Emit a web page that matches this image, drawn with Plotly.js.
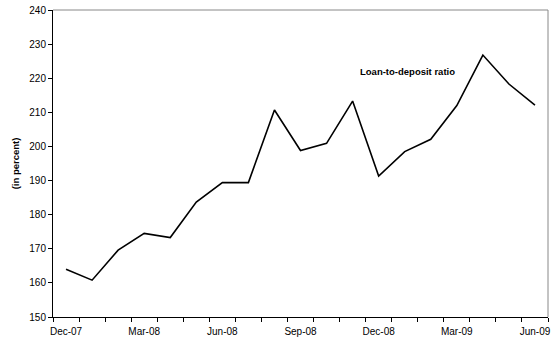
<!DOCTYPE html>
<html><head><meta charset="utf-8">
<script src="https://cdn.plot.ly/plotly-3.0.1.min.js"></script>
<style>body{margin:0;background:#fff}#c{width:554px;height:341px}</style>
</head><body><div id="c"></div>
<script>
const months = ["Dec-07","Jan-08","Feb-08","Mar-08","Apr-08","May-08","Jun-08","Jul-08","Aug-08","Sep-08","Oct-08","Nov-08","Dec-08","Jan-09","Feb-09","Mar-09","Apr-09","May-09","Jun-09"];
const ratio = [164.0,160.8,169.6,174.5,173.3,183.7,189.4,189.4,210.7,198.8,200.9,213.3,191.3,198.5,202.1,212.0,226.8,218.3,212.1];
const shownLabels = ["Dec-07","Mar-08","Jun-08","Sep-08","Dec-08","Mar-09","Jun-09"];
const seriesName = "Loan-to-deposit ratio";
const ticktext = months.map(m => shownLabels.includes(m) ? m : "");
const font = "Liberation Sans, Arial, sans-serif";
Plotly.newPlot("c", [{
  x: months, y: ratio, type: "scatter", mode: "lines",
  line: {color: "#000", width: 1.6}, name: seriesName, showlegend: false
}], {
  width: 554, height: 341,
  margin: {l: 53, r: 6, t: 10, b: 24},
  paper_bgcolor: "#fff", plot_bgcolor: "#fff",
  font: {family: font, size: 10, color: "#000"},
  xaxis: {type: "category", range: [-0.5, 18.5], tickvals: months, ticktext: ticktext,
    tickson: "boundaries", ticks: "outside", ticklen: 4, tickcolor: "#000", tickwidth: 1,
    showline: true, linecolor: "#000", linewidth: 1, showgrid: false, zeroline: false,
    tickfont: {family: font, size: 10}, tickangle: 0, ticklabelstandoff: 5},
  yaxis: {range: [150, 240], dtick: 10, tick0: 150, ticks: "outside", ticklen: 4, tickcolor: "#000",
    showline: true, linecolor: "#000", linewidth: 1, showgrid: false, zeroline: false,
    tickfont: {family: font, size: 10},
    title: {text: "<b>(in percent)</b>", font: {family: font, size: 9.5}, standoff: 7}},
  shapes: [
    {type: "line", xref: "paper", yref: "paper", x0: 0, x1: 1, y0: 1, y1: 1, line: {color: "#888", width: 1}},
    {type: "line", xref: "paper", yref: "paper", x0: 1, x1: 1, y0: 0, y1: 1, line: {color: "#888", width: 1}}
  ],
  annotations: [{x: 13.1, y: 221.9, xref: "x", yref: "y", text: "<b>" + seriesName + "</b>", showarrow: false,
    font: {family: font, size: 9.5, color: "#000"}}]
}, {displayModeBar: false, staticPlot: true});
</script></body></html>
